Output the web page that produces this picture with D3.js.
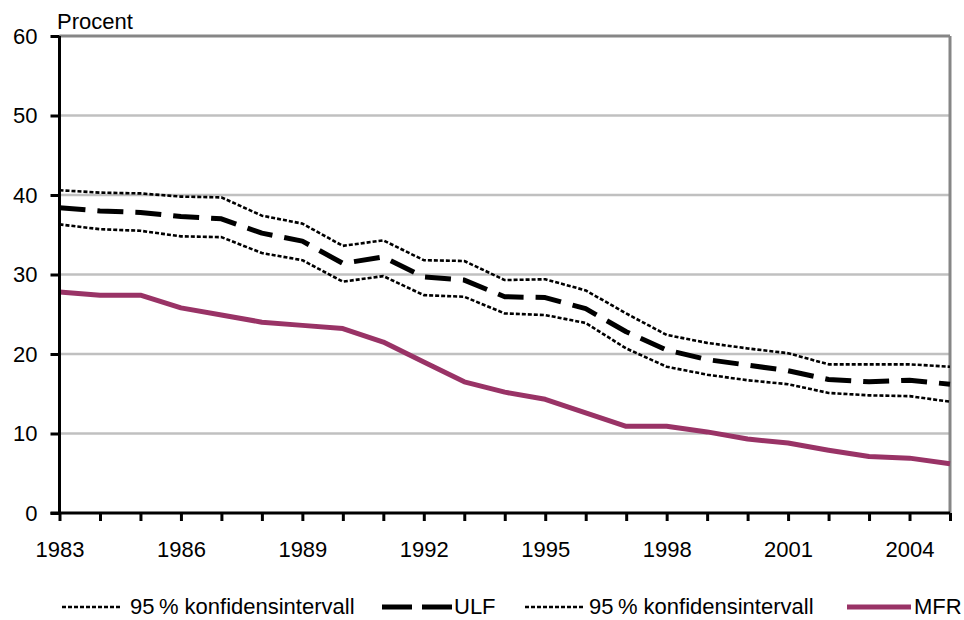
<!DOCTYPE html>
<html lang="sv">
<head>
  <meta charset="UTF-8">
  <title>ULF och MFR</title>
  <script src="https://cdnjs.cloudflare.com/ajax/libs/d3/7.8.5/d3.min.js"></script>
  <style>
    body { margin: 0; background: #fff; }
    svg { display: block; font-family: "Liberation Sans", Arial, sans-serif; }
  </style>
</head>
<body>
  <div id="chart"></div>
  <script>
    const years = d3.range(1983, 2006);
    const tickYears = [1983, 1986, 1989, 1992, 1995, 1998, 2001, 2004];
    const yTicks = [0, 10, 20, 30, 40, 50, 60];

    const upperCI = [40.6, 40.3, 40.2, 39.8, 39.7, 37.4, 36.4, 33.6, 34.3, 31.8, 31.7, 29.3, 29.4, 28.0, 25.1, 22.4, 21.4, 20.7, 20.1, 18.7, 18.7, 18.7, 18.4];
    const ulf = [38.4, 38.0, 37.8, 37.3, 37.0, 35.2, 34.2, 31.4, 32.2, 29.7, 29.3, 27.2, 27.1, 25.7, 22.8, 20.5, 19.3, 18.6, 17.9, 16.8, 16.5, 16.7, 16.2];
    const lowerCI = [36.3, 35.7, 35.5, 34.8, 34.7, 32.7, 31.8, 29.1, 29.8, 27.4, 27.2, 25.1, 24.9, 23.9, 20.7, 18.4, 17.4, 16.7, 16.2, 15.1, 14.8, 14.7, 14.0];
    const mfr = [27.8, 27.4, 27.4, 25.8, 24.9, 24.0, 23.6, 23.2, 21.5, 19.0, 16.5, 15.2, 14.3, 12.6, 10.9, 10.9, 10.2, 9.3, 8.8, 7.9, 7.1, 6.9, 6.2];

    const width = 964, height = 620;
    const svg = d3.select("#chart").append("svg")
      .attr("width", width)
      .attr("height", height);

    const x = d3.scaleLinear().domain([1983, 2005]).range([59.5, 950]);
    const y = d3.scaleLinear().domain([0, 60]).range([513, 36]);

    // gridlines
    svg.append("g")
      .selectAll("line")
      .data(yTicks.filter(d => d > 0))
      .join("line")
        .attr("x1", x(1983)).attr("x2", x(2005))
        .attr("y1", d => y(d)).attr("y2", d => y(d))
        .attr("stroke", d => d === 60 ? "#868686" : "#c0c0c0")
        .attr("stroke-width", d => d === 60 ? 3 : 2.5);

    // right border
    svg.append("line")
      .attr("x1", x(2005)).attr("x2", x(2005))
      .attr("y1", y(60)).attr("y2", y(0))
      .attr("stroke", "#868686")
      .attr("stroke-width", 3);

    const line = d3.line()
      .x((d, i) => x(years[i]))
      .y(d => y(d));

    const styles = {
      ci: { stroke: "#000", width: 2.6, dash: "4,2", legendDash: "4,2" },
      ulf: { stroke: "#000", width: 5, dash: "26,12", legendDash: "30,10" },
      mfr: { stroke: "#993366", width: 5, dash: null, legendDash: null }
    };

    function drawSeries(data, s) {
      svg.append("path")
        .datum(data)
        .attr("d", line)
        .attr("fill", "none")
        .attr("stroke", s.stroke)
        .attr("stroke-width", s.width)
        .attr("stroke-dasharray", s.dash)
        .attr("stroke-linejoin", "round");
    }

    drawSeries(mfr, styles.mfr);
    drawSeries(upperCI, styles.ci);
    drawSeries(lowerCI, styles.ci);
    drawSeries(ulf, styles.ulf);

    // y axis
    const yAxis = svg.append("g")
      .attr("transform", `translate(${x(1983)},0)`)
      .call(d3.axisLeft(y).tickValues(yTicks).tickSize(9).tickPadding(13));
    yAxis.select(".domain").attr("stroke", "#000").attr("stroke-width", 3)
      .attr("d", `M0,${y(60)}V${y(0)}`);
    yAxis.selectAll(".tick line").attr("stroke", "#000").attr("stroke-width", 3);
    yAxis.selectAll(".tick text").attr("font-size", 22).attr("fill", "#000")
      .attr("font-family", "Liberation Sans, Arial, sans-serif");

    // x axis
    const xAxis = svg.append("g")
      .attr("transform", `translate(0,${y(0)})`)
      .call(d3.axisBottom(x).tickValues(years).tickSize(8).tickFormat(d => tickYears.includes(d) ? d : ""));
    xAxis.select(".domain").attr("stroke", "#000").attr("stroke-width", 3)
      .attr("d", `M${x(1983) - 9},0H${x(2005)}`);
    xAxis.selectAll(".tick line").attr("stroke", "#000").attr("stroke-width", 3);
    xAxis.selectAll(".tick text").attr("font-size", 22).attr("fill", "#000")
      .attr("font-family", "Liberation Sans, Arial, sans-serif")
      .attr("dy", null)
      .attr("y", 44);

    svg.append("text")
      .attr("x", 57).attr("y", 29)
      .attr("font-size", 22)
      .text("Procent");

    // legend
    const legendItems = [
      { label: "95\u2009% konfidensintervall", style: styles.ci, x1: 62, x2: 122, tx: 130 },
      { label: "ULF", style: styles.ulf, x1: 382, x2: 452, tx: 454 },
      { label: "95\u2009% konfidensintervall", style: styles.ci, x1: 525, x2: 584, tx: 589 },
      { label: "MFR", style: styles.mfr, x1: 847, x2: 911, tx: 914 }
    ];
    const legend = svg.append("g");
    legendItems.forEach(item => {
      legend.append("line")
        .attr("x1", item.x1).attr("x2", item.x2)
        .attr("y1", 607).attr("y2", 607)
        .attr("stroke", item.style.stroke)
        .attr("stroke-width", item.style.width)
        .attr("stroke-dasharray", item.style.legendDash);
      legend.append("text")
        .attr("x", item.tx).attr("y", 614)
        .attr("font-size", 22)
        .text(item.label);
    });
  </script>
</body>
</html>
